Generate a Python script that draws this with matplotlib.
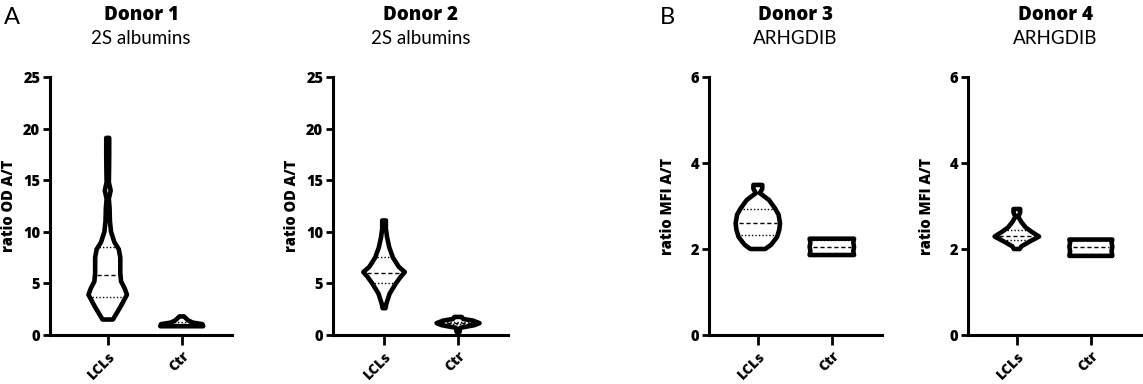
import numpy as np
import matplotlib
matplotlib.use("Agg")
import matplotlib.pyplot as plt

plt.rcParams['font.family'] = ['Open Sans', 'DejaVu Sans']

# --- Violin outlines (value, half-width in category units) ---
groups = ["LCLs", "Ctr"]

d1_lcl_y = [1.5, 2.7, 3.9, 4.5, 5.2, 6.0, 7.5, 8.3, 9.0, 10.0, 11.0, 12.3, 13.2, 14.0, 14.8, 16.0, 17.5, 19.1]
d1_lcl_w = [0.07, 0.17, 0.26, 0.23, 0.18, 0.17, 0.17, 0.15, 0.09, 0.045, 0.03, 0.025, 0.015, 0.04, 0.015, 0.018, 0.02, 0.02]
d1_lcl_q = [3.7, 5.8, 8.5]
d1_ctr_y = [0.85, 1.05, 1.2, 1.4, 1.6, 1.8]
d1_ctr_w = [0.29, 0.28, 0.15, 0.09, 0.06, 0.03]
d1_ctr_q = [0.95, 1.1, 1.3]

d2_lcl_y = [2.6, 3.0, 4.0, 5.0, 5.6, 6.1, 6.6, 7.5, 8.5, 9.5, 10.3, 11.1]
d2_lcl_w = [0.02, 0.03, 0.075, 0.16, 0.22, 0.28, 0.2, 0.12, 0.07, 0.04, 0.025, 0.025]
d2_lcl_q = [5.0, 6.0, 7.6]
d2_ctr_y = [0.3, 0.7, 0.95, 1.15, 1.4, 1.55, 1.75]
d2_ctr_w = [0.02, 0.03, 0.22, 0.29, 0.2, 0.07, 0.05]
d2_ctr_q = [1.05, 1.15, 1.3]

d3_lcl_y = [2.0, 2.1, 2.28, 2.45, 2.6, 2.8, 2.95, 3.14, 3.3, 3.4, 3.49]
d3_lcl_w = [0.1, 0.18, 0.26, 0.29, 0.3, 0.28, 0.23, 0.15, 0.027, 0.06, 0.06]
d3_lcl_q = [2.33, 2.6, 2.93]
d3_ctr_y = [1.86, 1.95, 2.05, 2.15, 2.24]
d3_ctr_w = [0.3, 0.29, 0.3, 0.29, 0.3]
d3_ctr_q = [1.88, 2.05, 2.22]

d4_lcl_y = [2.0, 2.06, 2.17, 2.29, 2.4, 2.5, 2.63, 2.75, 2.85, 2.93]
d4_lcl_w = [0.04, 0.06, 0.17, 0.3, 0.2, 0.12, 0.06, 0.02, 0.045, 0.045]
d4_lcl_q = [2.22, 2.3, 2.45]
d4_ctr_y = [1.84, 1.95, 2.05, 2.15, 2.22]
d4_ctr_w = [0.29, 0.28, 0.29, 0.28, 0.29]
d4_ctr_q = [1.87, 2.05, 2.2]

titles = ["Donor 1", "Donor 2", "Donor 3", "Donor 4"]
subtitles = ["2S albumins", "2S albumins", "ARHGDIB", "ARHGDIB"]
ylabels = ["ratio OD A/T", "ratio OD A/T", "ratio MFI A/T", "ratio MFI A/T"]
yticks_od = [0, 5, 10, 15, 20, 25]
yticks_mfi = [0, 2, 4, 6]

panels = [
    [(d1_lcl_y, d1_lcl_w, d1_lcl_q), (d1_ctr_y, d1_ctr_w, d1_ctr_q)],
    [(d2_lcl_y, d2_lcl_w, d2_lcl_q), (d2_ctr_y, d2_ctr_w, d2_ctr_q)],
    [(d3_lcl_y, d3_lcl_w, d3_lcl_q), (d3_ctr_y, d3_ctr_w, d3_ctr_q)],
    [(d4_lcl_y, d4_lcl_w, d4_lcl_q), (d4_ctr_y, d4_ctr_w, d4_ctr_q)],
]
yticks_all = [yticks_od, yticks_od, yticks_mfi, yticks_mfi]

# --- Layout (pixels of the 1143x384 canvas) ---
W, H = 1143, 384
ax_left = [50, 333, 709, 968]
ax_width = [182, 175, 173, 174]
x_lo = [-0.78, -0.69, -0.66, -0.66]
ax_top, ax_bottom = 77, 335
HEAVY = 800

fig = plt.figure(figsize=(W / 100, H / 100), dpi=100)


def draw_violin(ax, pos, ys, ws, qs):
    ys = np.asarray(ys)
    ws = np.asarray(ws)
    xs = np.concatenate([pos - ws, (pos + ws)[::-1]])
    yy = np.concatenate([ys, ys[::-1]])
    ax.fill(xs, yy, facecolor='white', edgecolor='black', lw=3.3,
            joinstyle='round', zorder=3)
    for i, q in enumerate(qs):
        half = np.interp(q, ys, ws) * 0.85
        style = (0, (3, 2)) if i == 1 else (0, (1, 1.5))
        ax.plot([pos - half, pos + half], [q, q], color='black', lw=1.0,
                ls=style, zorder=4)


for k in range(4):
    rect = [ax_left[k] / W, (H - ax_bottom) / H, ax_width[k] / W, (ax_bottom - ax_top) / H]
    ax = fig.add_axes(rect)
    for j, (ys, ws, qs) in enumerate(panels[k]):
        draw_violin(ax, j, ys, ws, qs)

    ticks = yticks_all[k]
    ax.set_ylim(ticks[0], ticks[-1])
    ax.set_xlim(x_lo[k], x_lo[k] + ax_width[k] / 74.0)
    ax.set_yticks(ticks, labels=[str(t) for t in ticks], fontsize=10.5, fontweight=HEAVY)
    ax.set_xticks([0, 1], labels=groups, rotation=45, ha='right', va='top',
                  rotation_mode='anchor', fontsize=10, fontweight=HEAVY)
    ax.tick_params(axis='y', length=5, width=2, pad=2)
    ax.tick_params(axis='x', length=7, width=2, pad=3)
    for s in ['top', 'right']:
        ax.spines[s].set_visible(False)
    for s in ['left', 'bottom']:
        ax.spines[s].set_linewidth(2.2)
    ax.set_ylabel(ylabels[k], fontsize=10.5, fontweight=HEAVY)
    ax.yaxis.set_label_coords(-33 / ax_width[k], 0.5)

    cx = (ax_left[k] + ax_width[k] / 2) / W
    fig.text(cx, 1 - 15 / H, titles[k], ha='center', va='center', fontsize=13.5, fontweight=HEAVY)
    fig.text(cx, 1 - 38 / H, subtitles[k], ha='center', va='center', fontsize=13.5,
             family=['Lato', 'DejaVu Sans'])

fig.text(12 / W, 1 - 17 / H, "A", ha='center', va='center', fontsize=17, family=['Lato', 'DejaVu Sans'])
fig.text(667 / W, 1 - 17 / H, "B", ha='center', va='center', fontsize=17, family=['Lato', 'DejaVu Sans'])

fig.savefig("out.png", dpi=100)
